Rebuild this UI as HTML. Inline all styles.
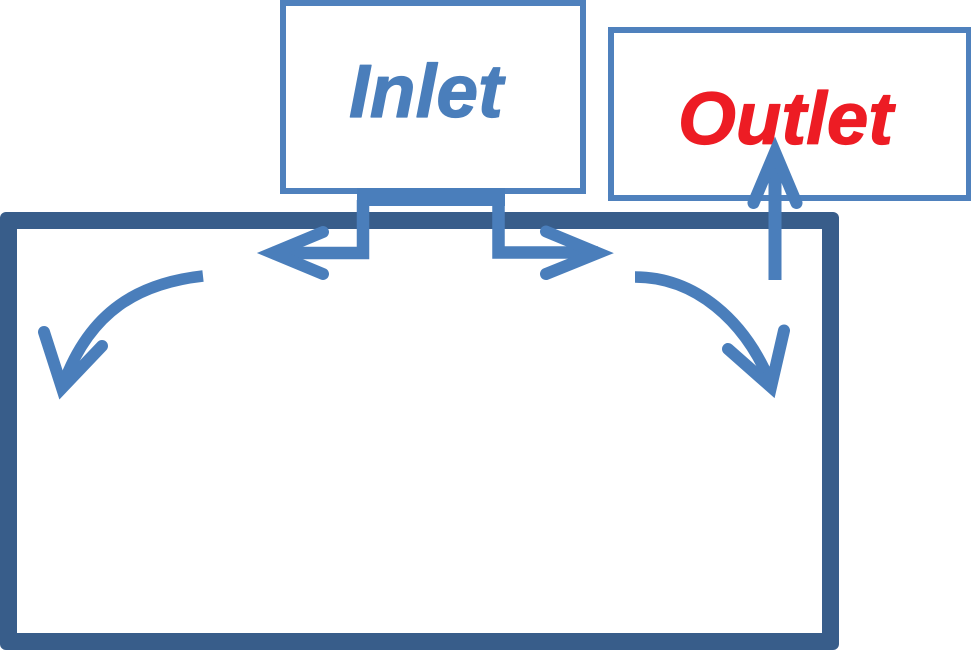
<!DOCTYPE html>
<html>
<head>
<meta charset="utf-8">
<style>
html,body{margin:0;padding:0;background:#fff;width:971px;height:650px;overflow:hidden}
svg{display:block}
text{font-family:"Liberation Sans",sans-serif;font-weight:bold;font-style:italic;stroke-width:1.2;stroke-linejoin:round}
</style>
</head>
<body>
<svg width="971" height="650" viewBox="0 0 971 650" xmlns="http://www.w3.org/2000/svg">
<rect width="971" height="650" fill="#fff"/>
<!-- Large tank -->
<rect x="0" y="212" width="839" height="438" fill="#385d8a" rx="6"/>
<rect x="17" y="229" width="805" height="404" fill="#fff"/>
<!-- Inlet box -->
<rect x="283" y="3" width="300" height="188" fill="#fff" stroke="#4f81bd" stroke-width="6"/>
<text x="349" y="117" font-size="75" fill="#4a7ebb" stroke="#4a7ebb" textLength="154" lengthAdjust="spacingAndGlyphs">Inlet</text>
<!-- Outlet box -->
<rect x="611" y="30" width="358" height="168" fill="#fff" stroke="#4f81bd" stroke-width="6"/>
<text x="678" y="144" font-size="74" fill="#ed1c24" stroke="#ed1c24" textLength="215" lengthAdjust="spacingAndGlyphs">Outlet</text>
<!-- White gap between splitter and tank edge -->
<rect x="369" y="206" width="123" height="6" fill="#fff"/>
<g fill="none" stroke="#4a7ebb">
  <!-- Inlet splitter -->
  <rect x="357" y="188" width="148" height="18" fill="#4a7ebb" stroke="none"/>
  <path d="M363 200V253H272" stroke-width="12.500"/>
  <path d="M498.500 200V252.500H598" stroke-width="12.500"/>
  <path d="M323 232L272.500 253L323 274" stroke-width="12" stroke-linecap="round" stroke-miterlimit="10"/>
  <path d="M546 231.500L598 253L546 274" stroke-width="12" stroke-linecap="round" stroke-miterlimit="10"/>
  <!-- Outlet arrow -->
  <path d="M775 280V152" stroke-width="13"/>
  <path d="M753.500 203L775 152L796.500 203" stroke-width="12" stroke-linecap="round" stroke-miterlimit="10"/>
  <!-- Left curved arrow -->
  <path d="M203 276C140 283 90 310 63 385" stroke-width="11.500"/>
  <path d="M44 332L62 388L102 346" stroke-width="12" stroke-linecap="round" stroke-miterlimit="10"/>
  <!-- Right curved arrow -->
  <path d="M635 277C695 277 745 320 771 384" stroke-width="11.500"/>
  <path d="M728 349L771 387L784 330.500" stroke-width="12" stroke-linecap="round" stroke-miterlimit="10"/>
</g>
</svg>
</body>
</html>
